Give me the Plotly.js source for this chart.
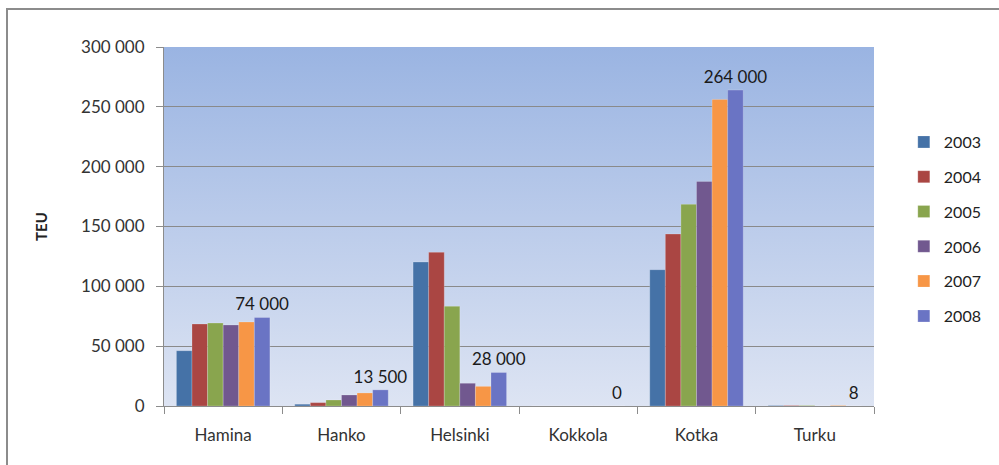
<!DOCTYPE html>
<html><head><meta charset="utf-8">
<script src="https://cdn.plot.ly/plotly-3.0.1.min.js"></script>
<style>
html,body{margin:0;padding:0;background:#fff;}
#wrap{position:relative;width:999px;height:465px;overflow:hidden;}
#chart{position:absolute;left:0;top:0;width:999px;height:465px;}
#frame{position:absolute;left:6px;top:8px;width:1000px;height:470px;border:2px solid #8c8c8c;box-sizing:border-box;pointer-events:none;}
</style></head>
<body><div id="wrap"><div id="chart"></div><div id="frame"></div></div>
<script>
const ports = ["Hamina","Hanko","Helsinki","Kokkola","Kotka","Turku"];
const years = ["2003","2004","2005","2006","2007","2008"];
const v2003 = [46200, 1500, 120300, 0, 113900, 400];
const v2004 = [68500, 2800, 128400, 0, 143700, 400];
const v2005 = [69300, 5000, 83300, 0, 168500, 400];
const v2006 = [67700, 9200, 19000, 0, 187700, 0];
const v2007 = [70200, 10900, 16400, 0, 256200, 400];
const v2008 = [74000, 13500, 28000, 0, 264000, 8];
const colors = ["#4572A7","#AA4643","#89A54E","#71588F","#F79646","#6A74C4"];
const series = [v2003, v2004, v2005, v2006, v2007, v2008];

const traces = series.map((vals, i) => {
  const t = {
    type: "bar", name: years[i], x: ports, y: vals,
    marker: {color: colors[i], line: {color: "rgba(255,255,255,0.35)", width: 0.6}},
    legendgroup: "g" + i,
    hoverinfo: "x+y+name"
  };
  if (i === 5) {
    t.texttemplate = "%{y:,}";
    t.textposition = "outside";
    t.constraintext = "none";
    t.cliponaxis = false;
    t.textfont = {family: "Lato, 'Open Sans', sans-serif", size: 17, color: "#1a1a1a"};
  }
  return t;
});

const grad = '<svg xmlns="http://www.w3.org/2000/svg" width="100" height="100" preserveAspectRatio="none">' +
  '<defs><linearGradient id="g" x1="0" y1="0" x2="0" y2="1">' +
  '<stop offset="0" stop-color="#9AB4E2"/><stop offset="1" stop-color="#DDE4F3"/></linearGradient></defs>' +
  '<rect width="100" height="100" fill="url(#g)"/></svg>';
const gradUri = "data:image/svg+xml;base64," + btoa(grad);

const layout = {
  width: 999, height: 465,
  margin: {l: 164, r: 119, t: 47, b: 59},
  paper_bgcolor: "#ffffff",
  plot_bgcolor: "rgba(0,0,0,0)",
  separators: ". ",
  barmode: "group", bargap: 0.21, bargroupgap: 0,
  font: {family: "Lato, 'Open Sans', sans-serif", size: 15, color: "#222"},
  images: [{source: gradUri, xref: "paper", yref: "paper", x: 0, y: 1, sizex: 1, sizey: 1,
            sizing: "stretch", layer: "below", xanchor: "left", yanchor: "top"}],
  xaxis: {
    type: "category", tickson: "boundaries", ticks: "outside", ticklen: 7, tickcolor: "#8c8c8c",
    showline: true, linecolor: "#8c8c8c", linewidth: 1, showgrid: false,
    tickfont: {size: 17, color: "#333"}, ticklabelstandoff: 14
  },
  yaxis: {
    range: [0, 300000], dtick: 50000, tickformat: ",d",
    ticks: "outside", ticklen: 7, tickcolor: "#8c8c8c",
    showline: true, linecolor: "#8c8c8c", linewidth: 1,
    showgrid: true, gridcolor: "#8a8a8a", gridwidth: 1, zeroline: false,
    tickfont: {size: 17, color: "#333"}, ticklabelstandoff: 8,
    title: {text: "<b>TEU</b>", font: {size: 15, color: "#222"}, standoff: 29}
  },
  legend: {
    x: 1.042, xanchor: "left", y: 0.493, yanchor: "middle",
    font: {size: 16, color: "#222"}, tracegroupgap: 11, itemwidth: 30,
    bgcolor: "rgba(0,0,0,0)"
  },
  showlegend: true
};
Plotly.newPlot("chart", traces, layout, {displayModeBar: false, staticPlot: true});
</script></body></html>
